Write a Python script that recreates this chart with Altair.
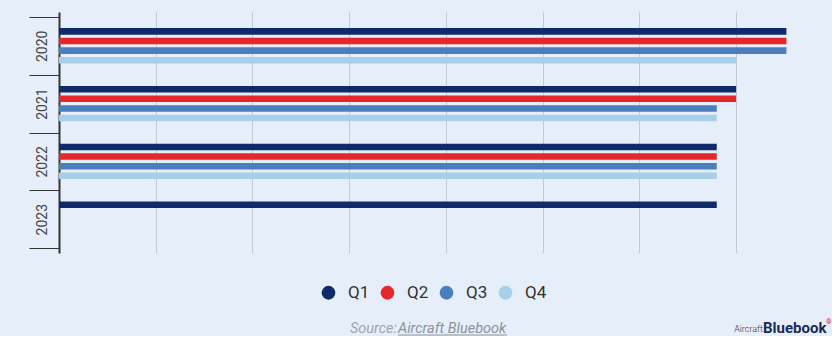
import altair as alt
import pandas as pd

years = ["2020", "2021", "2022", "2023"]
quarters = ["Q1", "Q2", "Q3", "Q4"]
v2020 = [7.52, 7.52, 7.52, 7.0]
v2021 = [7.0, 7.0, 6.8, 6.8]
v2022 = [6.8, 6.8, 6.8, 6.8]
v2023 = [6.8]
colors = ["#0f2a6a", "#e5262b", "#4a7fbe", "#a7cfea"]
source_prefix = ["Source: "]
source_link = ["Aircraft Bluebook"]
logo_a = ["Aircraft"]
logo_b = ["Bluebook"]
logo_r = ["®"]

rows = []
for yr, vals in zip(years, [v2020, v2021, v2022, v2023]):
    for q, v in zip(quarters, vals):
        rows.append({"year": yr, "quarter": q, "value": v})
df = pd.DataFrame(rows)

FONT = "Roboto"

bars = alt.Chart(df).mark_bar(size=6.6).encode(
    x=alt.X("value:Q",
            scale=alt.Scale(domain=[0, 7.95], nice=False, zero=True),
            axis=alt.Axis(title=None, labels=False, ticks=False, domain=False,
                          grid=True, values=[0, 1, 2, 3, 4, 5, 6, 7],
                          gridColor="#c3cad4", gridWidth=1)),
    y=alt.Y("year:N", sort=years,
            scale=alt.Scale(paddingInner=0, paddingOuter=0.086),
            axis=alt.Axis(title=None, tickBand="extent", tickSize=30,
                          tickColor="#333333", tickWidth=1,
                          domainColor="#333333", domainWidth=2,
                          labelAngle=270, labelAlign="center", labelBaseline="bottom",
                          labelPadding=-20, labelFontSize=14, labelColor="#444444",
                          labelFont=FONT, grid=False)),
    yOffset=alt.YOffset("quarter:N", sort=quarters,
                        scale=alt.Scale(paddingInner=0, paddingOuter=1)),
    color=alt.Color("quarter:N", sort=quarters,
                    scale=alt.Scale(domain=quarters, range=colors),
                    legend=alt.Legend(orient="none", legendX=261, legendY=272,
                                      direction="horizontal", columns=4, title=None,
                                      symbolType="circle", symbolSize=190,
                                      symbolStrokeWidth=0, labelFontSize=17,
                                      labelFont=FONT, labelColor="#333333",
                                      labelOffset=11, columnPadding=9, padding=0)),
)

src_a = alt.Chart(pd.DataFrame({"t": source_prefix})).mark_text(
    font=FONT, fontSize=14.5, fontStyle="italic", color="#a0a4aa",
    align="right", baseline="middle"
).encode(x=alt.value(338), y=alt.value(316.5), text="t:N")

src_b = alt.Chart(pd.DataFrame({"t": source_link})).mark_text(
    font=FONT, fontSize=14.5, fontStyle="italic", color="#8e9298",
    align="left", baseline="middle"
).encode(x=alt.value(339), y=alt.value(316.5), text="t:N")

underline = alt.Chart(pd.DataFrame({"t": source_link})).mark_rule(
    color="#8e9298", strokeWidth=1
).encode(x=alt.value(339), x2=alt.value(448), y=alt.value(323))

la = alt.Chart(pd.DataFrame({"t": logo_a})).mark_text(
    font=FONT, fontSize=9, fontWeight=300, color="#333333",
    align="right", baseline="middle"
).encode(x=alt.value(704), y=alt.value(316.5), text="t:N")

lb = alt.Chart(pd.DataFrame({"t": logo_b})).mark_text(
    font=FONT, fontSize=15, fontWeight="bold", color="#1b2a55",
    align="left", baseline="middle"
).encode(x=alt.value(704), y=alt.value(316), text="t:N")

lr = alt.Chart(pd.DataFrame({"t": logo_r})).mark_text(
    font=FONT, fontSize=7, fontWeight="bold", color="#e5262b",
    align="left", baseline="middle"
).encode(x=alt.value(767), y=alt.value(310), text="t:N")

chart = alt.layer(bars, src_a, src_b, underline, la, lb, lr).properties(
    width=769, height=241,
    padding={"left": 28, "top": 12, "right": 0, "bottom": 0},
    background="#e6eff9",
).configure_view(stroke=None)

chart.save("out.html", embed_options={"renderer": "svg", "actions": False})
